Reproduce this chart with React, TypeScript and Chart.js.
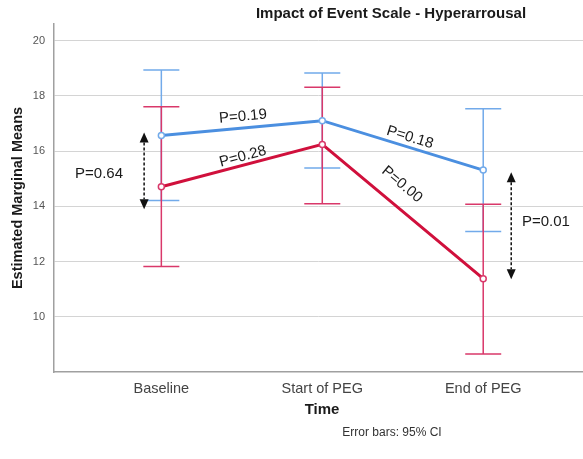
import { useEffect, useRef } from "react";
import Chart from "chart.js/auto";

// Time points on the x axis
const timePoints = ["Baseline", "Start of PEG", "End of PEG"];

// Group A (blue): estimated marginal means with 95% CI
const groupAMean = [16.56, 17.1, 15.31];
const groupALower = [14.21, 15.39, 13.09];
const groupAUpper = [18.93, 18.83, 17.53];

// Group B (red): estimated marginal means with 95% CI
const groupBMean = [14.71, 16.24, 11.38];
const groupBLower = [11.82, 14.09, 8.65];
const groupBUpper = [17.6, 18.31, 14.07];

// Y axis tick values
const yTicks = [10, 12, 14, 16, 18, 20];

// p-value annotations
const segmentPLabels = ["P=0.19", "P=0.28", "P=0.18", "P=0.00"];
const betweenPLabels = ["P=0.64", "P=0.01"];

const BLUE_LINE = "#4b8fe0";
const BLUE_BAR = "#72aaea";
const RED_LINE = "#d0103c";
const RED_BAR = "#d9386a";

// Labels that sit along a line segment: position in data units, rotation follows the segment
const segmentLabelPlacement = [
  { series: 0, seg: 0, x: 0.507, y: 17.25 },
  { series: 1, seg: 0, x: 0.507, y: 15.8 },
  { series: 0, seg: 1, x: 1.545, y: 16.49 },
  { series: 1, seg: 1, x: 1.495, y: 14.79 },
];

// Labels and dashed double arrows comparing the two groups
const betweenPlacement = [
  { labelX: -0.387, labelY: 15.19, arrowX: -0.107, arrowFrom: 13.89, arrowTo: 16.67 },
  { labelX: 2.39, labelY: 13.42, arrowX: 2.174, arrowFrom: 11.36, arrowTo: 15.23 },
];

const FONT = "'Liberation Sans', Arial, sans-serif";

const overlay = {
  id: "overlay",
  beforeDatasetsDraw(chart: any) {
    const { ctx, scales } = chart;
    const xs = scales.x;
    const ys = scales.y;
    const bars = [
      { lo: groupALower, hi: groupAUpper, color: BLUE_BAR },
      { lo: groupBLower, hi: groupBUpper, color: RED_BAR },
    ];
    ctx.save();
    ctx.lineWidth = 1.5;
    for (const b of bars) {
      ctx.strokeStyle = b.color;
      timePoints.forEach((_, i) => {
        const px = xs.getPixelForValue(i);
        const pLo = ys.getPixelForValue(b.lo[i]);
        const pHi = ys.getPixelForValue(b.hi[i]);
        ctx.beginPath();
        ctx.moveTo(px, pLo);
        ctx.lineTo(px, pHi);
        ctx.moveTo(px - 18, pLo);
        ctx.lineTo(px + 18, pLo);
        ctx.moveTo(px - 18, pHi);
        ctx.lineTo(px + 18, pHi);
        ctx.stroke();
      });
    }
    ctx.restore();
  },
  afterDatasetsDraw(chart: any) {
    const { ctx, scales } = chart;
    const xs = scales.x;
    const ys = scales.y;
    const means = [groupAMean, groupBMean];
    ctx.save();
    ctx.fillStyle = "#1a1a1a";
    ctx.font = `15px ${FONT}`;
    ctx.textAlign = "center";
    ctx.textBaseline = "middle";

    segmentLabelPlacement.forEach((p, k) => {
      const m = means[p.series];
      const x0 = xs.getPixelForValue(p.seg);
      const x1 = xs.getPixelForValue(p.seg + 1);
      const y0 = ys.getPixelForValue(m[p.seg]);
      const y1 = ys.getPixelForValue(m[p.seg + 1]);
      const angle = Math.atan2(y1 - y0, x1 - x0);
      ctx.save();
      ctx.translate(xs.getPixelForValue(p.x), ys.getPixelForValue(p.y));
      ctx.rotate(angle);
      ctx.fillText(segmentPLabels[k], 0, 0);
      ctx.restore();
    });

    betweenPlacement.forEach((p, k) => {
      ctx.fillText(betweenPLabels[k], xs.getPixelForValue(p.labelX), ys.getPixelForValue(p.labelY));
      const ax = xs.getPixelForValue(p.arrowX);
      const top = ys.getPixelForValue(p.arrowTo);
      const bottom = ys.getPixelForValue(p.arrowFrom);
      const head = 10;
      ctx.save();
      ctx.strokeStyle = "#111";
      ctx.lineWidth = 1.5;
      ctx.setLineDash([3, 2]);
      ctx.beginPath();
      ctx.moveTo(ax, top + head);
      ctx.lineTo(ax, bottom - head);
      ctx.stroke();
      ctx.setLineDash([]);
      ctx.fillStyle = "#111";
      ctx.beginPath();
      ctx.moveTo(ax, top);
      ctx.lineTo(ax - 4.5, top + head);
      ctx.lineTo(ax + 4.5, top + head);
      ctx.closePath();
      ctx.fill();
      ctx.beginPath();
      ctx.moveTo(ax, bottom);
      ctx.lineTo(ax - 4.5, bottom - head);
      ctx.lineTo(ax + 4.5, bottom - head);
      ctx.closePath();
      ctx.fill();
      ctx.restore();
    });
    ctx.restore();
  },
  afterDraw(chart: any) {
    const { ctx } = chart;
    ctx.save();
    ctx.textAlign = "center";
    ctx.textBaseline = "middle";
    ctx.fillStyle = "#1a1a1a";
    ctx.font = `bold 15px ${FONT}`;
    ctx.fillText("Impact of Event Scale - Hyperarrousal", 391, 14);
    ctx.font = `bold 15px ${FONT}`;
    ctx.fillText("Time", 322, 410);
    ctx.fillStyle = "#333";
    ctx.font = `12px ${FONT}`;
    ctx.fillText("Error bars: 95% CI", 392, 433);
    ctx.fillStyle = "#1a1a1a";
    ctx.font = `bold 14.5px ${FONT}`;
    ctx.translate(18, 198);
    ctx.rotate(-Math.PI / 2);
    ctx.fillText("Estimated Marginal Means", 0, 0);
    ctx.restore();
  },
};

export default function App() {
  const canvasRef = useRef<HTMLCanvasElement | null>(null);

  useEffect(() => {
    if (!canvasRef.current) return;
    const toPoints = (vals: number[]) => vals.map((v, i) => ({ x: i, y: v }));
    const chart = new Chart(canvasRef.current, {
      type: "line",
      data: {
        datasets: [
          {
            label: "Group A",
            data: toPoints(groupAMean),
            borderColor: BLUE_LINE,
            borderWidth: 3,
            pointRadius: 3,
            pointBackgroundColor: "#ffffff",
            pointBorderColor: BLUE_BAR,
            pointBorderWidth: 1.5,
            tension: 0,
          },
          {
            label: "Group B",
            data: toPoints(groupBMean),
            borderColor: RED_LINE,
            borderWidth: 3,
            pointRadius: 3,
            pointBackgroundColor: "#ffffff",
            pointBorderColor: RED_BAR,
            pointBorderWidth: 1.5,
            tension: 0,
          },
        ],
      },
      options: {
        animation: false,
        responsive: false,
        maintainAspectRatio: false,
        layout: { autoPadding: false, padding: { top: 24, left: 0, right: 0, bottom: 0 } },
        plugins: {
          legend: { display: false },
          tooltip: { enabled: false },
          title: { display: false },
        },
        scales: {
          x: {
            type: "linear",
            min: -0.667,
            max: 2.62,
            afterBuildTicks: (scale: any) => {
              scale.ticks = timePoints.map((_, i) => ({ value: i }));
            },
            afterFit: (scale: any) => {
              scale.height = 87;
            },
            grid: { display: false, drawTicks: false },
            border: { display: true, color: "#a0a0a0", width: 1.5 },
            ticks: {
              autoSkip: false,
              maxRotation: 0,
              padding: 8,
              color: "#444",
              font: { family: FONT, size: 14.5 },
              callback: (v: any) => timePoints[Math.round(Number(v))] ?? "",
            },
          },
          y: {
            type: "linear",
            min: 8,
            max: 20.6,
            afterBuildTicks: (scale: any) => {
              scale.ticks = yTicks.map((v) => ({ value: v }));
            },
            afterFit: (scale: any) => {
              scale.width = 54;
            },
            grid: { color: "#d4d4d4", lineWidth: 1, drawTicks: false },
            border: { display: true, color: "#a0a0a0", width: 1.5 },
            ticks: {
              padding: 9,
              color: "#555",
              font: { family: FONT, size: 11 },
            },
          },
        },
      },
      plugins: [overlay],
    });
    return () => chart.destroy();
  }, []);

  return (
    <div style={{ position: "fixed", left: 0, top: 0, width: 583, height: 459, background: "#fff" }}>
      <canvas ref={canvasRef} width={583} height={459} />
    </div>
  );
}
